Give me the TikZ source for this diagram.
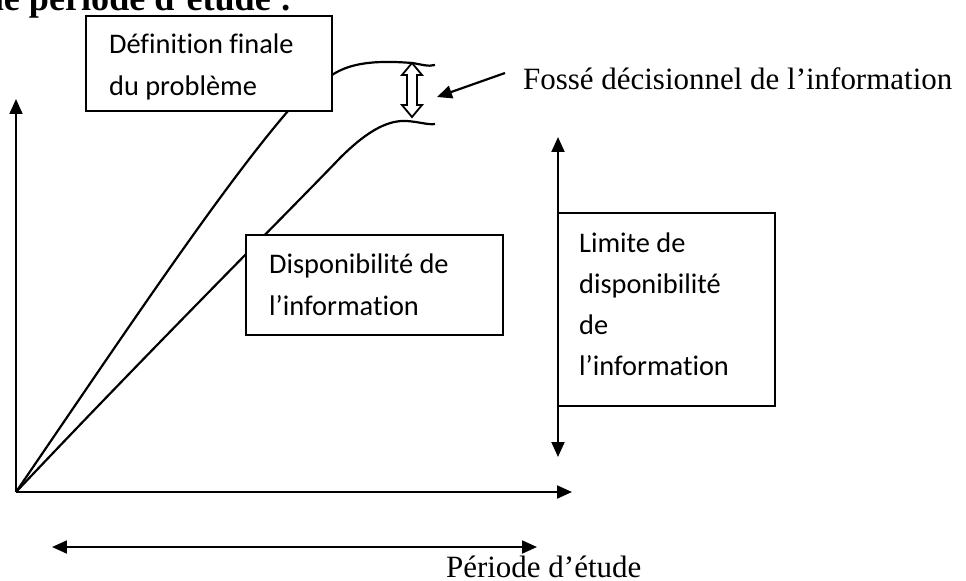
\documentclass[tikz,border=0pt]{standalone}
\usepackage{fontspec}
\setmainfont{Liberation Serif}
\newfontfamily\calibri[Ligatures=NoCommon]{Carlito}
\usetikzlibrary{arrows.meta,fit}
\begin{document}
\begin{tikzpicture}[x=0.3875pt, y=-0.3875pt, line width=0.85pt,
  box/.style={draw, fill=white, inner sep=0pt, line width=0.85pt},
  boxtext/.style={anchor=base west, inner sep=0pt, font=\calibri\fontsize{11pt}{13pt}\selectfont},
  serif/.style={anchor=base west, inner sep=0pt, font=\fontsize{12pt}{14pt}\selectfont},
  head/.style={-{Triangle[length=5.8pt,width=5pt]}},
  twohead/.style={{Triangle[length=5.8pt,width=5pt]}-{Triangle[length=5.8pt,width=5pt]}}]
\useasboundingbox (0,0) rectangle (966,580);
\clip (0,0) rectangle (966,580);

% heading line, cut by the top edge
\node[anchor=base east, inner sep=0pt, font=\bfseries\fontsize{14pt}{16pt}\selectfont]
  (title) at (293,10) {une période d’étude :};

% axes
\coordinate (O) at (16,492);
\coordinate (ytop) at (16,99);
\coordinate (xend) at (572,492);
\draw[head] (O) -- (ytop);
\draw[head] (O) -- (xend);

% curve: final definition of the problem
\coordinate (c1end) at (288,111);
\draw (O) .. controls (120,340) and (220,190) .. (c1end);
\coordinate (c1a) at (332,75);
\coordinate (c1b) at (412,63);
\coordinate (c1c) at (435,65);
\draw (c1a) .. controls (350,63) and (375,60) .. (c1b)
            .. controls (420,64) and (428,67) .. (c1c);

% curve: availability of information
\coordinate (c2a) at (340,158);
\coordinate (c2b) at (407,121);
\coordinate (c2c) at (435,124);
\draw (O) .. controls (150,350) and (300,200) .. (c2a)
          .. controls (370,128) and (390,120) .. (c2b)
          .. controls (420,122) and (428,125) .. (c2c);

% hollow double arrow marking the gap
\draw[fill=white, line width=0.7pt] (412,63) -- (422,75) -- (417,75) -- (417,105) -- (422,105)
  -- (412,117) -- (402,105) -- (407,105) -- (407,75) -- (402,75) -- cycle;
\coordinate (gap) at (437,97);
\coordinate (gapfrom) at (505,73);
\draw[head] (gapfrom) -- (gap);
\node[serif] (gaplabel) at (522,89) {Fossé décisionnel de l’information};

% boxes
\node[box, fit={(86,16) (332,111)}] (defbox) {};
\node[boxtext] (def1) at (108,53) {Définition finale};
\node[boxtext] (def2) at (108,95) {du problème};

\node[box, fit={(246,235) (503,335)}] (dispbox) {};
\node[boxtext] (disp1) at (268,273) {Disponibilité de};
\node[boxtext] (disp2) at (268,315) {l’information};

\node[box, fit={(558,213) (775,406)}] (limbox) {};
\node[boxtext] (lim1) at (578,252) {Limite de};
\node[boxtext] (lim2) at (578,293) {disponibilité};
\node[boxtext] (lim3) at (578,334) {de};
\node[boxtext] (lim4) at (578,375) {l’information};

% availability limit
\coordinate (limtop) at (558,137);
\coordinate (limbot) at (558,457);
\draw[twohead] (limbot) -- (limtop);

% study period
\coordinate (pl) at (52,547);
\coordinate (pr) at (537,547);
\draw[twohead] (pl) -- (pr);
\node[serif] (period) at (445,577) {Période d’étude};
\end{tikzpicture}
\end{document}
